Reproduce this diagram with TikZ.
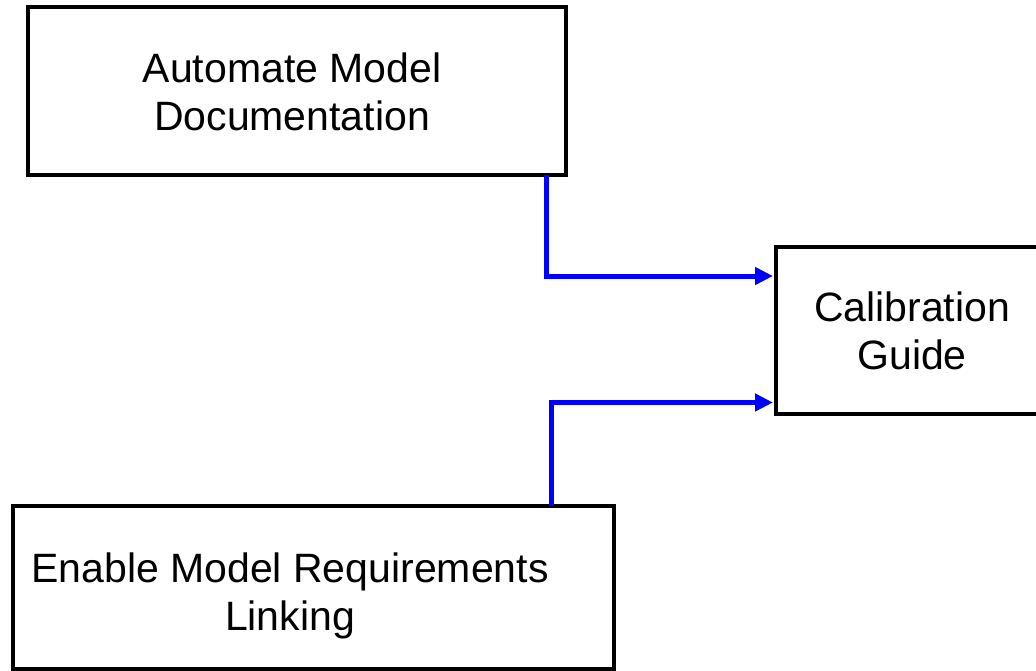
\documentclass[tikz,border=0pt]{standalone}
\usepackage{fontspec}
\setmainfont{Liberation Sans}
\usetikzlibrary{arrows.meta,calc}
\tikzset{
  boxshape/.style={draw=black, line width=4pt, fill=white, inner sep=0pt, outer sep=0pt},
  boxtext/.style={align=center, inner sep=0pt, font=\fontsize{41}{48.5}\selectfont},
  conn/.style={draw={rgb,255:red,0;green,0;blue,255}, line width=5pt, miter limit=10,
    -{Triangle[length=18pt,width=17pt]}, shorten >=3pt},
}
\begin{document}
\begin{tikzpicture}[x=1pt,y=-1pt]
  \useasboundingbox (0,0) rectangle (1036,671);
  \clip (0,0) rectangle (1036,671);
  \fill[white] (0,0) rectangle (1036,671);

  % boxes
  \node[boxshape, minimum width=538pt, minimum height=168pt] (doc) at (297,91) {};
  \node[boxshape, minimum width=272pt, minimum height=167pt] (calib) at (912,330) {};
  \node[boxshape, minimum width=601pt, minimum height=163pt] (link) at (313.5,587) {};

  % labels
  \node[boxtext] (doctext) at (292,92) {Automate Model\\Documentation};
  \node[boxtext] (calibtext) at (912,331) {Calibration\\Guide};
  \node[boxtext] (linktext) at (290,596) {Enable Model Requirements\\Linking};

  % elbow connectors into the calibration guide
  \draw[conn] ($(doc.south west)+(518.5,0)$) |- ($(calib.west)+(0,-54)$);
  \draw[conn] ($(link.north west)+(538,0)$) |- ($(calib.west)+(0,72.5)$);
\end{tikzpicture}
\end{document}
